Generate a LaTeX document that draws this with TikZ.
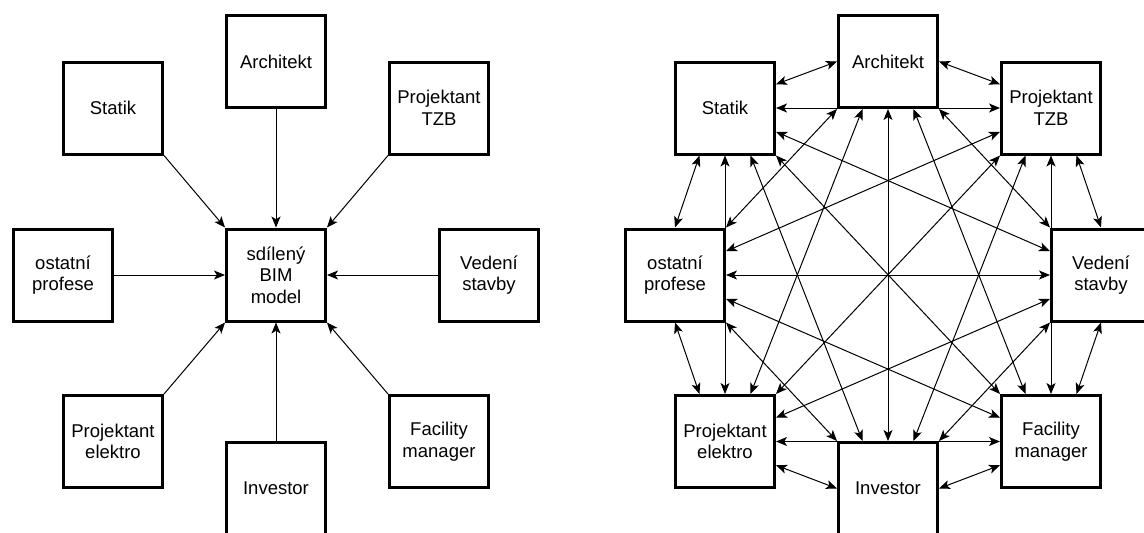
\documentclass[tikz,border=0pt]{standalone}
\usepackage{fontspec}
\setmainfont{Liberation Sans}
\usetikzlibrary{arrows.meta,calc}

% quarter points on each side of a box
\newcommand\makeports[1]{%
  \coordinate (#1-t1) at ($(#1.north west)!.25!(#1.north east)$);
  \coordinate (#1-t3) at ($(#1.north west)!.75!(#1.north east)$);
  \coordinate (#1-b1) at ($(#1.south west)!.25!(#1.south east)$);
  \coordinate (#1-b3) at ($(#1.south west)!.75!(#1.south east)$);
  \coordinate (#1-l1) at ($(#1.north west)!.25!(#1.south west)$);
  \coordinate (#1-l3) at ($(#1.north west)!.75!(#1.south west)$);
  \coordinate (#1-r1) at ($(#1.north east)!.25!(#1.south east)$);
  \coordinate (#1-r3) at ($(#1.north east)!.75!(#1.south east)$);
}

\begin{document}
\begin{tikzpicture}[x=1pt,y=-1pt,
  >={Stealth[length=11pt,width=9pt,inset=2.8pt]},
  box/.style={draw=black, line width=3pt, minimum width=99pt, minimum height=92pt,
    inner sep=0pt, align=center, font={\fontsize{18.5}{21.5}\selectfont}},
  oneway/.style={draw=black, line width=1pt, ->},
  twoway/.style={draw=black, line width=1pt, <->}]

\fill[white] (0,0) rectangle (1144,533);
\useasboundingbox (0,0) rectangle (1144,533);
\clip (0,0) rectangle (1144,533);

% ---------- shared model: everyone feeds one BIM model ----------
\begin{scope}[shift={(276,275)}]
  \node[box] (lC) at (0,0)        {sdílený\\BIM\\model};
  \node[box] (lA) at (0,-213.5)   {Architekt};
  \node[box] (lS) at (-163,-167)  {Statik};
  \node[box] (lT) at (163,-167)   {Projektant\\TZB};
  \node[box] (lO) at (-213,0)     {ostatní\\profese};
  \node[box] (lV) at (213,0)      {Vedení\\stavby};
  \node[box] (lE) at (-163,166.5) {Projektant\\elektro};
  \node[box] (lF) at (163,166.5)  {Facility\\manager};
  \node[box] (lI) at (0,213.5)    {Investor};
\end{scope}

\draw[oneway] (lS.south east) -- (lC.north west);
\draw[oneway] (lA.south) -- (lC.north);
\draw[oneway] (lT.south west) -- (lC.north east);
\draw[oneway] (lO.east) -- (lC.west);
\draw[oneway] (lV.west) -- (lC.east);
\draw[oneway] (lE.north east) -- (lC.south west);
\draw[oneway] (lI.north) -- (lC.south);
\draw[oneway] (lF.north west) -- (lC.south east);

% ---------- mesh: every participant exchanges with every other ----------
\begin{scope}[shift={(888,275)}]
  \node[box] (rA) at (0,-213.5)   {Architekt};
  \node[box] (rS) at (-163,-167)  {Statik};
  \node[box] (rT) at (163,-167)   {Projektant\\TZB};
  \node[box] (rO) at (-213,0)     {ostatní\\profese};
  \node[box] (rV) at (213,0)      {Vedení\\stavby};
  \node[box] (rE) at (-163,166.5) {Projektant\\elektro};
  \node[box] (rF) at (163,166.5)  {Facility\\manager};
  \node[box] (rI) at (0,213.5)    {Investor};
\end{scope}
\makeports{rA}\makeports{rS}\makeports{rT}\makeports{rO}
\makeports{rV}\makeports{rE}\makeports{rF}\makeports{rI}

\draw[twoway] (rS-r1) -- (rA.west);
\draw[twoway] (rA.east) -- (rT-l1);
\draw[twoway] (rS.east) -- (rT.west);
\draw[twoway] (rA.south) -- (rI.north);
\draw[twoway] (rA.south west) -- (rO.north east);
\draw[twoway] (rA-b1) -- (rE-t3);
\draw[twoway] (rA-b3) -- (rF-t1);
\draw[twoway] (rA.south east) -- (rV.north west);
\draw[twoway] (rS-b1) -- (rO.north);
\draw[twoway] (rS.south) -- (rE.north);
\draw[twoway] (rS-b3) -- (rI-t1);
\draw[twoway] (rS.south east) -- (rF.north west);
\draw[twoway] (rS-r3) -- (rV-l1);
\draw[twoway] (rT-l3) -- (rO-r1);
\draw[twoway] (rT.south west) -- (rE.north east);
\draw[twoway] (rT-b1) -- (rI-t3);
\draw[twoway] (rT.south) -- (rF.north);
\draw[twoway] (rT-b3) -- (rV.north);
\draw[twoway] (rO.east) -- (rV.west);
\draw[twoway] (rO-r3) -- (rF-l1);
\draw[twoway] (rO.south east) -- (rI.north west);
\draw[twoway] (rO.south) -- (rE-t1);
\draw[twoway] (rV-l3) -- (rE-r1);
\draw[twoway] (rV.south west) -- (rI.north east);
\draw[twoway] (rV.south) -- (rF-t3);
\draw[twoway] (rE-r3) -- (rI.west);
\draw[twoway] (rE.east) -- (rF.west);
\draw[twoway] (rF-l3) -- (rI.east);

\end{tikzpicture}
\end{document}
